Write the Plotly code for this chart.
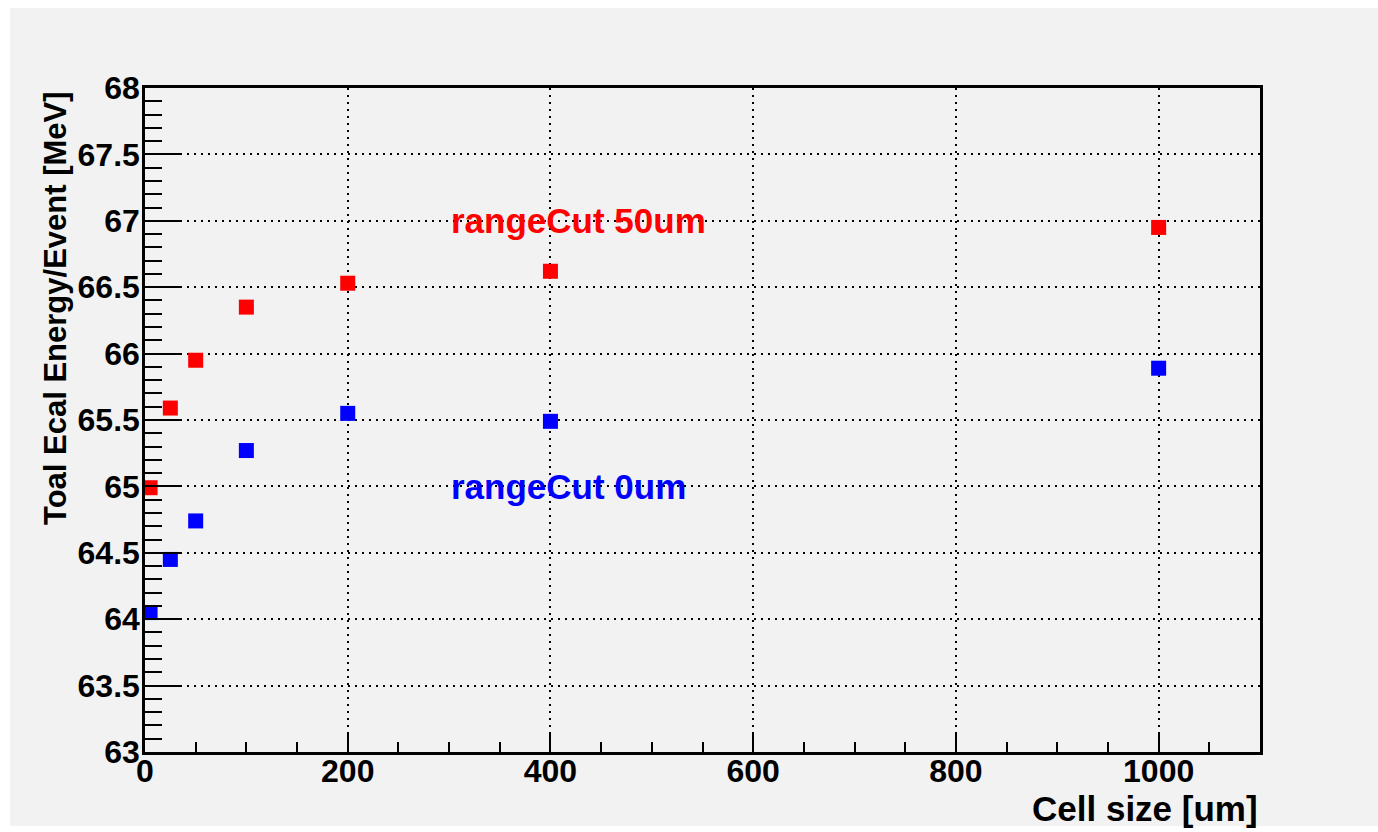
import plotly.graph_objects as go

cell_size = [5, 25, 50, 100, 200, 400, 1000]
energy_cut50 = [64.99, 65.59, 65.95, 66.35, 66.53, 66.62, 66.95]
energy_cut0 = [64.05, 64.45, 64.74, 65.27, 65.55, 65.49, 65.89]
x_ticks = [0, 200, 400, 600, 800, 1000]
y_ticks = [63, 63.5, 64, 64.5, 65, 65.5, 66, 66.5, 67, 67.5, 68]
y_tick_labels = ["63", "63.5", "64", "64.5", "65", "65.5", "66", "66.5", "67", "67.5", "68"]

FONT = "Liberation Sans, Arial, Helvetica, sans-serif"
BG = "#f2f2f2"
W, H = 1378, 832
L, R, T, B = 145, 118, 88, 80
PW, PH = W - L - R, H - T - B

fig = go.Figure()
fig.add_trace(go.Scatter(x=cell_size, y=energy_cut50, mode="markers",
                         marker=dict(symbol="square", size=15, color="#ff0000", line=dict(width=0)),
                         name="rangeCut 50um", showlegend=False))
fig.add_trace(go.Scatter(x=cell_size, y=energy_cut0, mode="markers",
                         marker=dict(symbol="square", size=15, color="#0000ff", line=dict(width=0)),
                         name="rangeCut 0um", showlegend=False))

axis_common = dict(showline=True, linecolor="black", linewidth=2.5, mirror=True,
                   showgrid=True, gridcolor="black", gridwidth=2, griddash="2px,5px",
                   zeroline=False, ticks="inside", tickcolor="black", tickwidth=2,
                   tickfont=dict(family=FONT, size=32, color="black", weight="bold"))

fig.update_xaxes(range=[0, 1100], tickmode="array", tickvals=x_ticks,
                 ticktext=[str(v) for v in x_ticks], ticklen=19,
                 minor=dict(dtick=50, ticklen=10, ticks="inside", tickcolor="black",
                            tickwidth=2, showgrid=False),
                 ticklabelstandoff=-11, **axis_common)
fig.update_yaxes(range=[63, 68], tickmode="array", tickvals=y_ticks,
                 ticktext=y_tick_labels, ticklen=35,
                 minor=dict(dtick=0.1, ticklen=17, ticks="inside", tickcolor="black",
                            tickwidth=2, showgrid=False),
                 ticklabelstandoff=-4, **axis_common)

def px_x(p):
    return (p - L) / PW

def px_y(p):
    return 1 - (p - T) / PH

fig.add_annotation(x=300, y=67, xref="x", yref="y", text="rangeCut 50um", showarrow=False,
                   xanchor="left", yanchor="middle",
                   font=dict(family=FONT, size=35, color="#ff0000", weight="bold"))
fig.add_annotation(x=300, y=65, xref="x", yref="y", text="rangeCut 0um", showarrow=False,
                   xanchor="left", yanchor="middle",
                   font=dict(family=FONT, size=35, color="#0000ff", weight="bold"))
fig.add_annotation(x=px_x(1260), y=px_y(808), xref="paper", yref="paper", text="Cell size [um]",
                   showarrow=False, xanchor="right", yanchor="middle",
                   font=dict(family=FONT, size=35, color="black", weight="bold"))
fig.add_annotation(x=px_x(55), y=px_y(308), xref="paper", yref="paper",
                   text="Toal Ecal Energy/Event [MeV]", textangle=-90,
                   showarrow=False, xanchor="center", yanchor="middle",
                   font=dict(family=FONT, size=31, color="black", weight="bold"))

# white border strips around the grey canvas
for x0, y0, x1, y1 in [(0, 0, W, 8), (0, 0, 10, H), (0, 826, W, H)]:
    fig.add_shape(type="rect", xref="paper", yref="paper",
                  x0=px_x(x0), x1=px_x(x1), y0=px_y(y1), y1=px_y(y0),
                  fillcolor="white", line=dict(width=0), layer="below")

fig.update_layout(width=W, height=H, margin=dict(l=L, r=R, t=T, b=B, autoexpand=False),
                  paper_bgcolor=BG, plot_bgcolor=BG, showlegend=False)

fig.write_html("out.html")
